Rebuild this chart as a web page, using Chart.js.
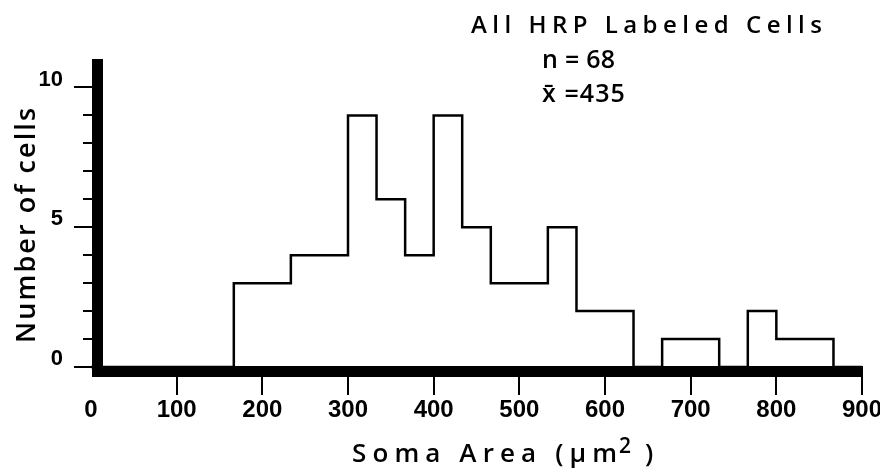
<!DOCTYPE html>
<html>
<head>
<meta charset="utf-8">
<title>All HRP Labeled Cells</title>
<script src="https://cdn.jsdelivr.net/npm/chart.js@4/dist/chart.umd.min.js"></script>
<style>
  html, body { margin: 0; padding: 0; background: #fff; }
  canvas { display: block; }
</style>
</head>
<body>
<canvas id="histChart" width="880" height="475"></canvas>
<script>
// Soma area histogram (bins of 33.3 um^2)
const binEdges = [0, 33.3, 66.7, 100, 133.3, 166.7, 200, 233.3, 266.7, 300, 333.3, 366.7, 400, 433.3,
                  466.7, 500, 533.3, 566.7, 600, 633.3, 666.7, 700, 733.3, 766.7, 800, 833.3, 866.7, 900];
const cellCounts = [0, 0, 0, 0, 0, 3, 3, 4, 4, 9, 6, 4, 9, 5, 3, 3, 5, 2, 2, 0, 1, 1, 0, 2, 1, 1, 0];
const xTicks = [0, 100, 200, 300, 400, 500, 600, 700, 800, 900];
const yTicks = [0, 1, 2, 3, 4, 5, 6, 7, 8, 9, 10];
const yLabelled = [0, 5, 10];

const chartTitle = 'All HRP Labeled Cells';
const statLines = ['n = 68', 'x\u0304 =435'];
const yTitle = 'Number of cells';
const xTitle = ['Soma Area (\u03bcm', '2', ')'];

const TEXT_FONT = '"Open Sans", "DejaVu Sans", sans-serif';
const TICK_FONT = '"Liberation Sans", Arial, sans-serif';

// one point per bin start, last edge closes the outline at 0
const points = binEdges.map((x, i) => ({ x: x, y: i < cellCounts.length ? cellCounts[i] : 0 }));

function drawSpaced(ctx, text, x, y, width) {
    ctx.letterSpacing = '0px';
    const w = ctx.measureText(text).width;
    const n = Array.from(text).length;
    const sp = n > 1 ? (width - w) / (n - 1) : 0;
    ctx.letterSpacing = sp.toFixed(2) + 'px';
    ctx.fillText(text, x, y);
    ctx.letterSpacing = '0px';
    return x + width + sp;
}

const figureText = {
    id: 'figureText',
    afterDraw(chart) {
        const ctx = chart.ctx;
        ctx.save();
        ctx.fillStyle = '#000';
        ctx.textAlign = 'left';
        ctx.textBaseline = 'alphabetic';

        // title + stats block
        ctx.font = '600 24px ' + TEXT_FONT;
        drawSpaced(ctx, chartTitle, 471, 33, 351);
        ctx.font = '600 25px ' + TEXT_FONT;
        drawSpaced(ctx, statLines[0], 542, 68, 73);
        drawSpaced(ctx, statLines[1], 542, 102, 84);

        // x axis title
        ctx.font = '600 26px ' + TEXT_FONT;
        drawSpaced(ctx, xTitle[0], 352, 462, 265);
        ctx.font = '600 21px ' + TEXT_FONT;
        ctx.fillText(xTitle[1], 619, 453);
        ctx.font = '600 26px ' + TEXT_FONT;
        ctx.fillText(xTitle[2], 645, 462);

        // y axis title, rotated
        ctx.translate(35, 343);
        ctx.rotate(-Math.PI / 2);
        ctx.font = '600 27px ' + TEXT_FONT;
        drawSpaced(ctx, yTitle, 0, 0, 235);
        ctx.restore();
    }
};

const ctx = document.getElementById('histChart').getContext('2d');
new Chart(ctx, {
    type: 'line',
    data: {
        datasets: [{
            data: points,
            stepped: true,
            borderColor: '#000',
            borderWidth: 2.5,
            pointRadius: 0,
            fill: false,
            clip: false
        }]
    },
    options: {
        responsive: false,
        animation: false,
        events: [],
        layout: { padding: { top: 64, right: 18, left: 0, bottom: 0 } },
        plugins: {
            legend: { display: false },
            tooltip: { enabled: false }
        },
        scales: {
            x: {
                type: 'linear',
                min: 7,
                max: 900,
                afterBuildTicks: s => { s.ticks = xTicks.map(v => ({ value: v })); },
                afterFit: s => { s.height = 104; s.paddingLeft = 0; s.paddingRight = 0; },
                border: { display: true, color: '#000', width: 11 },
                grid: {
                    drawOnChartArea: false,
                    tickLength: 24,
                    lineWidth: 2,
                    color: c => (c.tick && c.tick.value === 0) ? 'rgba(0,0,0,0)' : '#000'
                },
                ticks: {
                    autoSkip: false,
                    maxRotation: 0,
                    padding: 1,
                    color: '#000',
                    font: { family: TICK_FONT, size: 24, weight: 'bold' }
                }
            },
            y: {
                type: 'linear',
                min: -0.143,
                max: 10.84,
                afterBuildTicks: s => { s.ticks = yTicks.map(v => ({ value: v })); },
                afterFit: s => { s.width = 97; s.paddingTop = 0; s.paddingBottom = 0; },
                border: { display: true, color: '#000', width: 11 },
                grid: {
                    drawOnChartArea: false,
                    tickLength: 23,
                    lineWidth: 2,
                    color: '#000',
                    tickBorderDash: c => (c.tick && yLabelled.includes(c.tick.value)) ? [] : [0, 9, 100]
                },
                ticks: {
                    autoSkip: false,
                    padding: 11,
                    labelOffset: -8,
                    color: '#000',
                    callback: v => yLabelled.includes(v) ? String(v) : '',
                    font: { family: TICK_FONT, size: 22, weight: 'bold' }
                }
            }
        }
    },
    plugins: [figureText]
});
</script>
</body>
</html>
